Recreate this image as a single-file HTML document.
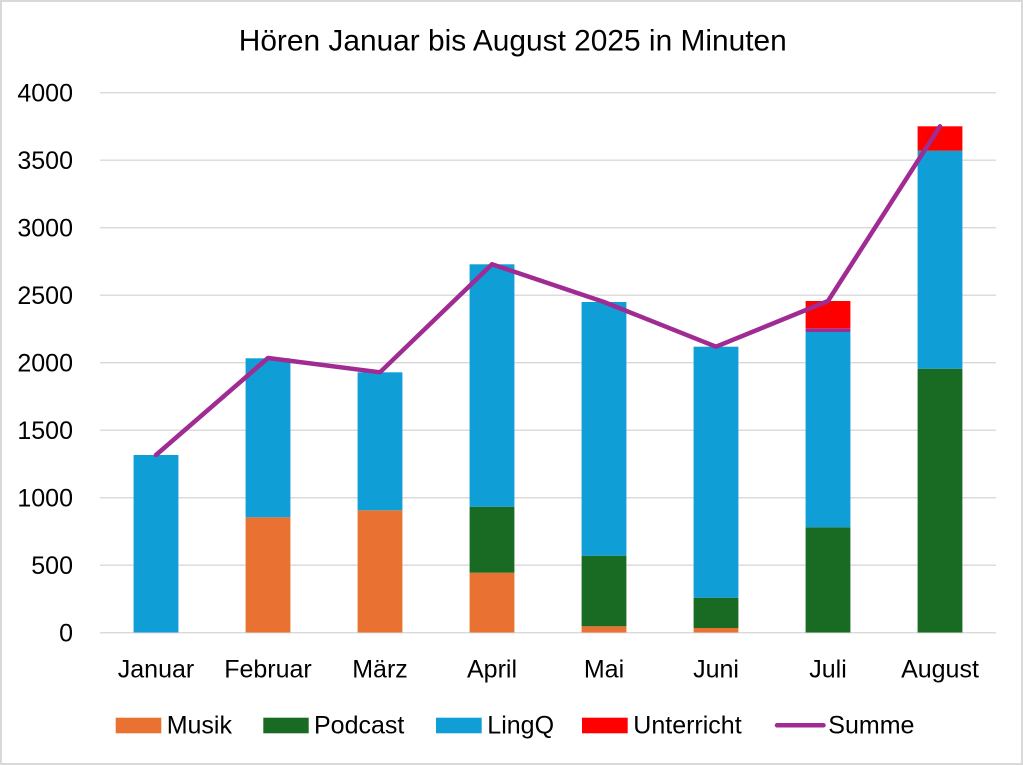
<!DOCTYPE html>
<html>
<head>
<meta charset="utf-8">
<style>
  html, body { margin: 0; padding: 0; background: #ffffff; }
  svg { display: block; }
  text { font-family: "Liberation Sans", sans-serif; fill: #000000; }
</style>
</head>
<body>
<svg width="1023" height="765" viewBox="0 0 1023 765" xmlns="http://www.w3.org/2000/svg">
  <!-- background & frame -->
  <rect x="0" y="0" width="1023" height="765" fill="#ffffff"/>
  <rect x="1" y="1" width="1021" height="763" fill="none" stroke="#d9d9d9" stroke-width="2"/>

  <!-- title -->
  <text x="512.75" y="50.7" font-size="30" text-anchor="middle" textLength="548" lengthAdjust="spacingAndGlyphs">Hören Januar bis August 2025 in Minuten</text>

  <!-- gridlines -->
  <g stroke="#d9d9d9" stroke-width="1.4">
    <line x1="100" y1="92.7" x2="996" y2="92.7"/>
    <line x1="100" y1="160.2" x2="996" y2="160.2"/>
    <line x1="100" y1="227.7" x2="996" y2="227.7"/>
    <line x1="100" y1="295.2" x2="996" y2="295.2"/>
    <line x1="100" y1="362.7" x2="996" y2="362.7"/>
    <line x1="100" y1="430.2" x2="996" y2="430.2"/>
    <line x1="100" y1="497.7" x2="996" y2="497.7"/>
    <line x1="100" y1="565.2" x2="996" y2="565.2"/>
    <line x1="100" y1="632.7" x2="996" y2="632.7"/>
  </g>

  <!-- y-axis labels -->
  <g font-size="25" text-anchor="end">
    <text x="73" y="101.5">4000</text>
    <text x="73" y="169">3500</text>
    <text x="73" y="236.5">3000</text>
    <text x="73" y="304">2500</text>
    <text x="73" y="371.5">2000</text>
    <text x="73" y="439">1500</text>
    <text x="73" y="506.5">1000</text>
    <text x="73" y="574">500</text>
    <text x="73" y="641.5">0</text>
  </g>

  <!-- bars -->
  <!-- Januar -->
  <rect x="133.6" y="455" width="44.8" height="177.5" fill="#0F9ED5"/>
  <!-- Februar -->
  <rect x="245.6" y="517.3" width="44.8" height="115.2" fill="#E97132"/>
  <rect x="245.6" y="358.3" width="44.8" height="159" fill="#0F9ED5"/>
  <!-- März -->
  <rect x="357.6" y="510.3" width="44.8" height="122.2" fill="#E97132"/>
  <rect x="357.6" y="372.3" width="44.8" height="138" fill="#0F9ED5"/>
  <!-- April -->
  <rect x="469.6" y="572.7" width="44.8" height="59.8" fill="#E97132"/>
  <rect x="469.6" y="506.7" width="44.8" height="66" fill="#196B24"/>
  <rect x="469.6" y="264.3" width="44.8" height="242.4" fill="#0F9ED5"/>
  <!-- Mai -->
  <rect x="581.6" y="626.3" width="44.8" height="6.2" fill="#E97132"/>
  <rect x="581.6" y="555.7" width="44.8" height="70.6" fill="#196B24"/>
  <rect x="581.6" y="302" width="44.8" height="253.7" fill="#0F9ED5"/>
  <!-- Juni -->
  <rect x="693.6" y="628" width="44.8" height="4.5" fill="#E97132"/>
  <rect x="693.6" y="597.7" width="44.8" height="30.3" fill="#196B24"/>
  <rect x="693.6" y="346.7" width="44.8" height="251" fill="#0F9ED5"/>
  <!-- Juli -->
  <rect x="805.6" y="527.3" width="44.8" height="105.2" fill="#196B24"/>
  <rect x="805.6" y="332" width="44.8" height="195.3" fill="#0F9ED5"/>
  <rect x="805.6" y="328.3" width="44.8" height="3.7" fill="#A02B93"/>
  <rect x="805.6" y="301" width="44.8" height="27.3" fill="#FF0000"/>
  <!-- August -->
  <rect x="917.6" y="368.7" width="44.8" height="263.8" fill="#196B24"/>
  <rect x="917.6" y="150.7" width="44.8" height="218" fill="#0F9ED5"/>
  <rect x="917.6" y="126.3" width="44.8" height="24.4" fill="#FF0000"/>

  <!-- Summe line -->
  <polyline points="156,455 268,358 380,372.3 492,264.3 604,302 716,346.7 828,301 940,126.3"
            fill="none" stroke="#A02B93" stroke-width="4.5" stroke-linejoin="round" stroke-linecap="round"/>

  <!-- x-axis labels -->
  <g font-size="25" text-anchor="middle">
    <text x="156" y="677.3">Januar</text>
    <text x="268" y="677.3">Februar</text>
    <text x="380" y="677.3">März</text>
    <text x="492" y="677.3">April</text>
    <text x="604" y="677.3">Mai</text>
    <text x="716" y="677.3">Juni</text>
    <text x="828" y="677.3">Juli</text>
    <text x="940" y="677.3">August</text>
  </g>

  <!-- legend -->
  <g font-size="25">
    <rect x="115.7" y="717.7" width="45.6" height="15.6" fill="#E97132"/>
    <text x="166.7" y="733.3">Musik</text>
    <rect x="263.3" y="717.7" width="45.4" height="15.6" fill="#196B24"/>
    <text x="314" y="733.3">Podcast</text>
    <rect x="436" y="717.7" width="45.7" height="15.6" fill="#0F9ED5"/>
    <text x="487.3" y="733.3">LingQ</text>
    <rect x="582" y="717.7" width="45.7" height="15.6" fill="#FF0000"/>
    <text x="633.3" y="733.3">Unterricht</text>
    <line x1="777" y1="725.3" x2="823.5" y2="725.3" stroke="#A02B93" stroke-width="4.5" stroke-linecap="round"/>
    <text x="828.3" y="733.3">Summe</text>
  </g>
</svg>
</body>
</html>
